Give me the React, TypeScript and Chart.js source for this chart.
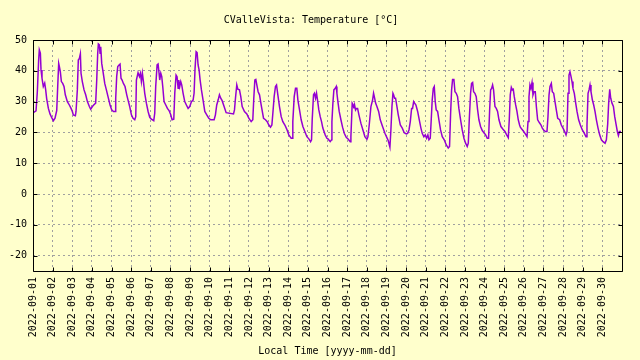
import React, { useEffect, useRef } from "react";
import { Chart, registerables } from "chart.js";

Chart.register(...registerables);

const TITLE = "CValleVista: Temperature [°C]";
const X_TITLE = "Local Time [yyyy-mm-dd]";

const dayLabels = [
  "2022-09-01", "2022-09-02", "2022-09-03", "2022-09-04", "2022-09-05",
  "2022-09-06", "2022-09-07", "2022-09-08", "2022-09-09", "2022-09-10",
  "2022-09-11", "2022-09-12", "2022-09-13", "2022-09-14", "2022-09-15",
  "2022-09-16", "2022-09-17", "2022-09-18", "2022-09-19", "2022-09-20",
  "2022-09-21", "2022-09-22", "2022-09-23", "2022-09-24", "2022-09-25",
  "2022-09-26", "2022-09-27", "2022-09-28", "2022-09-29", "2022-09-30",
];

const yTicks = [-20, -10, 0, 10, 20, 30, 40, 50];
const Y_MIN = -25;
const Y_MAX = 50;
const HOURS_TOTAL = 720;

// hours since 2022-09-01 00:00
const hours = [
  0, 0.4, 3.7, 5.3, 6.9, 7.7, 9.0, 9.8, 11.0, 12.6, 14.3, 15.5, 16.7, 18.8, 20.8, 23.2,
  24.9, 26.9, 29.0, 30.2, 31.4, 32.2, 33.4, 34.7, 36.3, 37.9, 39.5, 42.0, 44.4, 46.5,
  48.1, 49.3, 51.8, 52.6, 54.2, 55.4, 56.7, 57.9, 58.7, 60.3, 62.4, 64.4, 66.5, 68.9, 70.5,
  72.6, 74.2, 76.6, 77.9, 79.1, 79.9, 81.1, 82.0, 82.8, 84.0, 85.6, 87.7, 89.7, 91.7, 94.2,
  96.2, 98.3, 100.3, 101.1, 102.3, 103.6, 105.2, 106.4, 107.6, 108.9, 110.5, 112.5, 114.6, 116.2, 118.2,
  120.3, 122.3, 124.4, 125.6, 126.4, 128.4, 130.1, 131.3, 132.5, 133.7, 135.0, 136.6, 138.6, 140.7, 142.7,
  144.7, 147.6, 148.8, 150.0, 151.7, 152.9, 154.1, 154.9, 156.2, 157.4, 158.6, 160.2, 162.3, 164.3, 166.3,
  168.4, 170.0, 172.1, 173.3, 174.9, 176.1, 177.4, 178.2, 179.4, 180.6, 181.8, 183.5, 185.5, 187.5, 189.6, 191.6,
  193.7, 195.7, 196.9, 198.1, 199.4, 200.6, 201.8, 203.0, 204.3, 205.9, 207.9, 210.0, 212.4, 214.9,
  217.3, 221.4, 223.0, 224.6, 226.3, 227.9, 229.5, 231.2, 233.6, 236.1,
  245.1, 246.3, 247.5, 249.1, 250.4, 252.4, 254.0, 255.7, 258.5, 261.4, 263.8,
  266.7, 268.7, 269.9, 271.2, 272.4, 273.6, 275.2, 276.9, 278.9, 281.8, 284.2, 286.3,
  288.3, 290.3, 292.0, 293.2, 294.8, 296.4, 297.7, 299.3, 301.3, 303.4, 305.4, 307.9, 310.3,
  312.7, 315.6, 316.8, 317.6, 319.3, 320.9, 322.5, 323.8, 325.8, 327.8, 329.9, 332.3, 334.8,
  337.2, 339.3, 340.5, 341.3, 342.9, 344.1, 345.4, 346.6, 347.8, 349.4, 351.1, 352.7, 354.3, 357.2, 359.3,
  360.9, 363.3, 365.0, 365.4, 366.6, 367.8, 369.5, 370.7, 371.5, 372.7, 374.3, 376.4, 378.4, 380.5, 382.9,
  385.4, 387.8, 388.6, 390.2, 391.5, 392.3, 393.1, 394.3, 395.5, 396.8, 398.4, 400.8, 403.3, 405.7,
  408.2, 409.4, 411.0, 413.1, 415.1, 416.3, 417.6, 418.8, 420.4, 422.5, 424.5, 427.3, 430.2,
  432.6, 434.3, 436.3, 437.5, 438.8, 440.0, 440.8, 442.0, 443.2, 444.9, 446.5, 449.0, 451.4, 453.8,
  456.3, 457.9, 459.6, 461.2, 462.8, 464.0, 465.3, 466.5, 468.1, 470.2, 472.2, 474.2, 475.8, 477.8, 479.5,
  481.1, 482.7, 484.0, 485.6, 486.8, 488.0, 489.3, 490.5, 491.7, 492.9, 494.6, 496.2, 498.2, 500.3, 502.7,
  505.2, 507.6, 509.2, 510.5, 511.7, 512.9, 514.5, 515.8, 517.4, 519.0, 520.6, 522.7, 524.7, 526.8,
  528.8, 530.8, 532.1, 533.3, 534.9, 536.1, 537.4, 538.6, 540.2, 541.8, 543.5, 545.1, 547.1, 549.2, 551.2,
  553.3, 555.3, 556.9, 558.2, 559.4, 560.6, 561.8, 563.0, 564.7, 566.3, 567.9, 569.6, 572.0, 574.5,
  576.9, 579.0, 581.0, 582.2, 583.4, 584.7, 585.9, 587.1, 588.3, 590.0, 591.6, 593.2, 594.8, 595.7, 597.7, 599.8,
  601.8, 603.9, 605.1, 606.3, 607.5, 608.7, 610.0, 611.2, 612.4, 614.0, 615.3, 616.9, 618.9, 621.0, 622.6,
  624.2, 626.3, 628.3, 629.5, 630.8, 632.0, 633.6, 634.8, 636.5, 638.1, 639.7, 641.4, 643.8, 645.8, 647.9,
  649.9, 651.6, 652.8, 654.0, 655.2, 656.4, 657.7, 658.9, 660.1, 661.7, 663.4, 665.0, 667.0, 669.1, 671.5,
  674.0, 676.0, 677.2, 678.5, 679.7, 680.9, 682.1, 683.8, 685.4, 687.0, 688.7, 690.7, 692.7, 694.8,
  696.8, 699.3, 700.9, 702.5, 703.7, 705.0, 706.2, 707.8, 709.5, 711.1, 712.7, 714.3, 715.6, 716.8, 718.8,
];

// temperature in °C
const temps = [
  26.3, 26.4, 27.0, 33.2, 43.5, 46.8, 45.7, 40.3, 37.6, 34.9, 36.0, 33.8, 31.0, 27.8, 26.0, 24.6,
  23.8, 24.6, 27.1, 34.9, 42.4, 41.4, 39.7, 36.5, 35.9, 34.9, 32.2, 30.0, 28.9, 27.8,
  26.8, 25.7, 25.4, 26.8, 33.8, 43.5, 44.0, 45.5, 39.2, 36.5, 33.8, 32.2, 30.0, 28.4, 27.5,
  28.4, 28.9, 29.5, 37.0, 45.7, 48.7, 48.4, 45.7, 47.8, 42.4, 39.7, 35.9, 33.8, 31.6, 28.9,
  27.3, 26.8, 26.8, 31.1, 38.1, 41.4, 41.9, 42.2, 37.6, 37.0, 35.9, 34.9, 32.2, 30.5, 28.4,
  25.7, 24.6, 24.1, 25.1, 37.0, 39.4, 38.1, 39.2, 36.5, 39.2, 36.5, 32.7, 29.5, 26.8, 24.9,
  24.3, 23.8, 26.2, 34.9, 41.9, 42.2, 39.2, 37.0, 39.2, 38.1, 34.9, 30.0, 28.9, 27.8, 27.1,
  25.7, 24.1, 24.3, 32.7, 38.6, 38.1, 34.3, 37.0, 34.9, 36.5, 35.4, 32.7, 30.0, 28.9, 27.8, 28.4,
  30.0, 30.5, 32.7, 40.8, 46.2, 45.9, 41.9, 40.3, 37.0, 33.8, 30.5, 26.8, 25.7, 24.6,
  24.1, 24.1, 25.7, 28.9, 30.5, 32.2, 31.1, 30.3, 28.4, 26.4,
  26.0, 27.3, 31.1, 35.4, 34.0, 33.8, 31.6, 28.4, 26.8, 26.0, 24.6,
  23.5, 24.1, 31.1, 37.0, 37.2, 35.4, 33.2, 32.2, 28.9, 24.6, 24.1, 23.5,
  22.4, 21.7, 22.4, 26.2, 31.6, 34.9, 35.4, 32.2, 28.4, 25.1, 23.5, 22.4, 21.0,
  19.2, 18.1, 18.1, 23.5, 31.6, 34.3, 34.3, 30.5, 27.3, 24.1, 21.9, 20.3, 18.6,
  17.9, 17.0, 17.6, 24.1, 32.2, 32.7, 31.1, 32.7, 30.5, 27.3, 25.1, 23.5, 21.4, 19.2, 18.1,
  17.8, 17.0, 17.6, 23.5, 29.5, 33.8, 34.3, 34.9, 32.7, 30.0, 26.8, 24.1, 21.7, 19.7, 18.4,
  17.8, 17.0, 18.6, 29.5, 28.9, 27.8, 28.9, 27.3, 27.8, 27.8, 25.7, 23.0, 20.8, 18.6,
  17.8, 18.6, 22.4, 28.4, 30.5, 32.7, 31.1, 29.5, 28.4, 26.8, 24.1, 21.9, 19.7,
  18.3, 17.3, 15.2, 20.8, 28.4, 32.7, 32.2, 31.1, 31.1, 28.4, 25.7, 22.4, 21.4, 19.9,
  19.5, 19.7, 20.8, 23.5, 27.8, 27.8, 30.0, 29.5, 28.9, 26.8, 24.1, 21.4, 19.7, 18.6, 19.2,
  18.1, 19.2, 17.6, 18.1, 24.1, 30.5, 34.3, 34.9, 30.0, 27.3, 26.8, 24.1, 20.8, 18.6, 17.6,
  15.9, 14.9, 15.4, 26.2, 33.8, 37.2, 37.2, 33.2, 32.7, 31.6, 27.8, 24.1, 20.8, 18.1,
  16.5, 15.4, 16.5, 24.1, 32.7, 35.9, 36.2, 33.2, 32.7, 31.6, 27.3, 24.1, 21.9, 20.6, 19.9,
  19.2, 18.1, 18.1, 27.3, 33.8, 34.3, 35.4, 33.8, 28.4, 27.8, 26.8, 24.1, 21.9, 21.0,
  20.3, 19.2, 18.3, 24.1, 32.2, 34.6, 33.8, 34.0, 31.6, 28.9, 26.8, 24.1, 22.4, 21.7, 21.0, 20.3,
  19.5, 18.6, 23.5, 31.6, 35.4, 34.3, 36.2, 32.2, 33.2, 33.2, 28.4, 24.1, 23.2, 22.4, 21.4,
  20.8, 20.3, 20.3, 25.1, 32.2, 34.9, 35.9, 33.2, 32.7, 30.0, 27.3, 24.6, 24.1, 22.4, 21.4,
  20.3, 19.2, 20.3, 32.7, 38.6, 39.7, 38.1, 36.5, 34.3, 32.7, 29.5, 26.8, 24.1, 22.4, 20.8,
  19.7, 18.6, 22.4, 32.7, 33.8, 35.4, 33.2, 30.5, 28.9, 26.8, 24.1, 21.4, 19.2, 17.6,
  17.0, 16.5, 17.6, 22.7, 29.5, 34.0, 31.1, 29.5, 28.4, 25.1, 22.7, 20.3, 19.0, 20.3, 20.3,
];

const BG = "#ffffcc";
const LINE_COLOR = "#9400d3";
const GRID_COLOR = "#a0a0a0";
const FONT = { family: "'DejaVu Sans Mono', monospace", size: 10, lineHeight: 1.2, weight: "normal" };

const framePlugin = {
  id: "frame",
  afterDraw(chart: any) {
    const { ctx, chartArea } = chart;
    const { left, top, right, bottom } = chartArea;
    const xs = chart.scales.x;
    const ys = chart.scales.y;
    ctx.save();
    ctx.strokeStyle = "#000";
    ctx.lineWidth = 1;
    ctx.setLineDash([]);
    ctx.beginPath();
    const L = Math.round(left) + 0.5;
    const R = Math.round(right) + 0.5;
    const T = Math.round(top) + 0.5;
    const B = Math.round(bottom) + 0.5;
    ctx.rect(L, T, R - L, B - T);
    const tick = 4;
    for (let i = 0; i <= dayLabels.length; i++) {
      const px = Math.round(xs.getPixelForValue(i * 24)) + 0.5;
      ctx.moveTo(px, B);
      ctx.lineTo(px, B - tick);
      ctx.moveTo(px, T);
      ctx.lineTo(px, T + tick);
    }
    for (const v of yTicks) {
      const py = Math.round(ys.getPixelForValue(v)) + 0.5;
      ctx.moveTo(L, py);
      ctx.lineTo(L + tick, py);
      ctx.moveTo(R, py);
      ctx.lineTo(R - tick, py);
    }
    ctx.stroke();
    ctx.restore();
  },
};

export default function App() {
  const canvasRef = useRef<HTMLCanvasElement | null>(null);

  useEffect(() => {
    const canvas = canvasRef.current;
    if (!canvas) return;
    const points = hours.map((h, i) => ({ x: h, y: temps[i] }));
    const chart = new Chart(canvas, {
      type: "line",
      data: {
        datasets: [
          {
            data: points,
            borderColor: LINE_COLOR,
            borderWidth: 1.5,
            pointRadius: 0,
            tension: 0,
            fill: false,
          },
        ],
      },
      options: {
        animation: false,
        responsive: false,
        maintainAspectRatio: false,
        parsing: false,
        layout: { padding: { left: 0, right: 18, top: 0, bottom: 0 } },
        plugins: {
          legend: { display: false },
          tooltip: { enabled: false },
          title: {
            display: true,
            text: TITLE,
            color: "#000",
            font: FONT,
            padding: { top: 14, bottom: 14 },
          },
        },
        scales: {
          x: {
            type: "linear",
            min: 0,
            max: HOURS_TOTAL,
            afterBuildTicks: (s: any) => {
              const t = [];
              for (let i = 0; i <= dayLabels.length; i++) t.push({ value: i * 24 });
              s.ticks = t;
            },
            afterFit: (s: any) => {
              s.height = 89;
            },
            ticks: {
              autoSkip: false,
              maxRotation: 90,
              minRotation: 90,
              padding: 6,
              color: "#000",
              font: FONT,
              callback: (v: any) => dayLabels[Math.round(Number(v) / 24)] ?? "",
            },
            grid: { color: GRID_COLOR, drawTicks: false, lineWidth: 1 },
            border: { display: false, dash: [2, 3] },
            title: {
              display: true,
              text: X_TITLE,
              color: "#000",
              font: FONT,
              padding: { top: 0, bottom: 3 },
            },
          },
          y: {
            min: Y_MIN,
            max: Y_MAX,
            afterBuildTicks: (s: any) => {
              s.ticks = yTicks.map((v) => ({ value: v }));
            },
            afterFit: (s: any) => {
              s.width = 33;
            },
            ticks: { padding: 6, color: "#000", font: FONT },
            grid: { color: GRID_COLOR, drawTicks: false, lineWidth: 1 },
            border: { display: false, dash: [2, 3] },
          },
        },
      },
      plugins: [framePlugin],
    } as any);
    return () => chart.destroy();
  }, []);

  return (
    <div
      style={{
        position: "fixed",
        left: 0,
        top: 0,
        width: 640,
        height: 360,
        background: BG,
      }}
    >
      <canvas ref={canvasRef} width={640} height={360} style={{ width: 640, height: 360, display: "block" }} />
    </div>
  );
}
